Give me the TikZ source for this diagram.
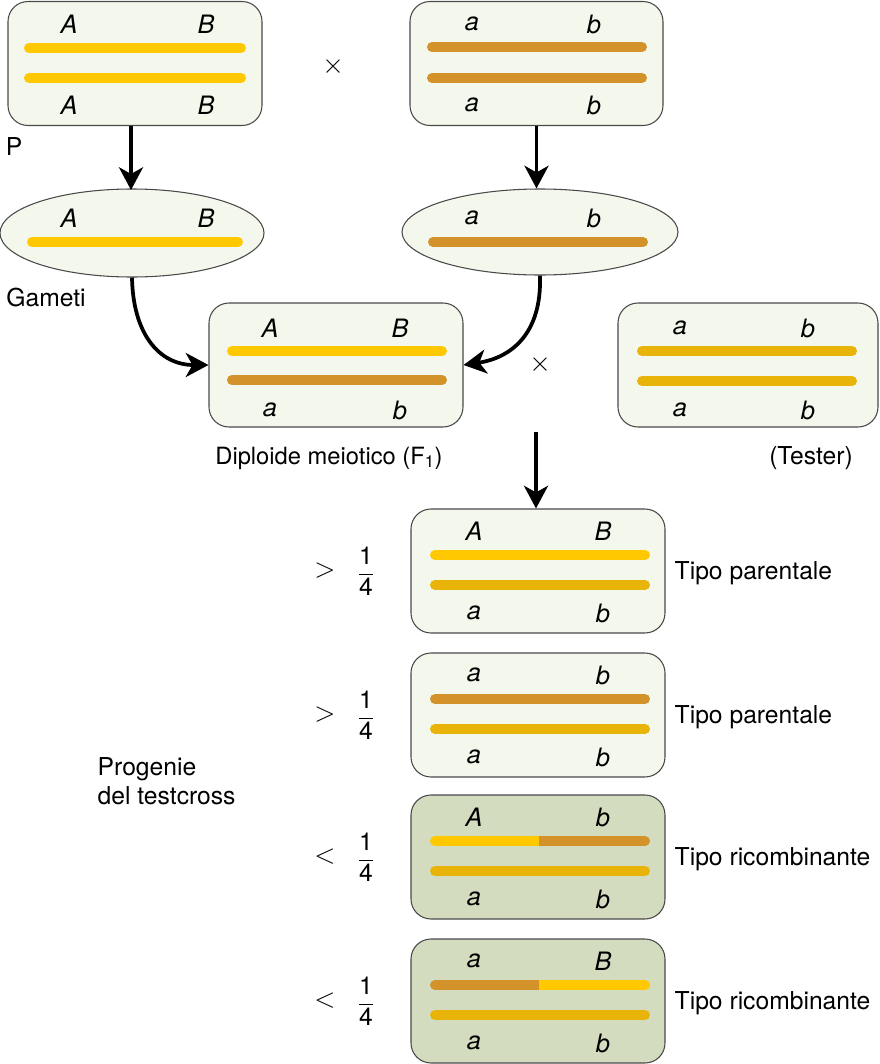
\documentclass[tikz,border=0pt]{standalone}
\usepackage{fontspec}
\setmainfont{TeX Gyre Heros}
\usetikzlibrary{arrows.meta,shapes.geometric}
\definecolor{yel}{HTML}{FFC800}
\definecolor{brn}{HTML}{D4922A}
\definecolor{tst}{HTML}{E8B40A}
\definecolor{boxfill}{HTML}{F4F8EC}
\definecolor{recfill}{HTML}{D3DCBF}
\definecolor{boxline}{HTML}{4A4A4A}
\begin{document}
\begin{tikzpicture}[x=0.75pt,y=-0.75pt,
  cbox/.style={draw=boxline, fill=boxfill, line width=0.8pt, rounded corners=15pt,
    minimum width=190.5pt, minimum height=93pt, inner sep=0pt},
  ebox/.style={ellipse, draw=boxline, fill=boxfill, line width=0.8pt, inner sep=0pt},
  lbl/.style={font=\fontsize{19}{22}\selectfont\itshape},
  txt/.style={font=\fontsize{18.5}{22}\selectfont},
  sym/.style={font=\fontsize{21}{24}\selectfont},
  chr/.style={line width=7.5pt, line cap=round},
  chrb/.style={line width=7.5pt, line cap=butt},
  arr/.style={line width=2.8pt, -{Stealth[length=17pt,width=18pt,inset=5pt]}}
]
\useasboundingbox (0,0) rectangle (879,1064);

% parents
\node[cbox] (b1) at (135,63.5) {};
\draw[chr,yel] (29,48) -- (241,48);
\draw[chr,yel] (29,78) -- (241,78);
\node[lbl] (b1la) at (69,24) {A};
\node[lbl] (b1lb) at (206,24) {B};
\node[lbl] (b1lc) at (69,105) {A};
\node[lbl] (b1ld) at (206,105) {B};

\node[cbox, minimum width=189.75pt] (b2) at (536.5,63.5) {};
\draw[chr,brn] (432,47) -- (642,47);
\draw[chr,brn] (432,78) -- (642,78);
\node[lbl] (b2la) at (472,24) {a};
\node[lbl] (b2lb) at (594,24) {b};
\node[lbl] (b2lc) at (472,105) {a};
\node[lbl] (b2ld) at (594,105) {b};

\node[sym] (x1) at (333,67) {$\times$};
\node[txt] (P) at (14,147) {P};

% gametes
\node[ebox, minimum width=198pt, minimum height=66pt] (e1) at (132,233) {};
\draw[chr,yel] (32,242) -- (238,242);
\node[lbl] (e1la) at (69,218) {A};
\node[lbl] (e1lb) at (206,218) {B};

\node[ebox, minimum width=207pt, minimum height=64.5pt] (e2) at (540,232) {};
\draw[chr,brn] (433,242) -- (643,242);
\node[lbl] (e2la) at (472,218) {a};
\node[lbl] (e2lb) at (594,218) {b};

\node[txt] (gam) at (46,298) {Gameti};

\draw[arr] (b1.south -| 131,0) -- (131,190);
\draw[arr] (b2.south) -- (b2.south |- e2.north);

% F1
\node[cbox] (f1) at (336,365) {};
\draw[chr,yel] (232,351) -- (442,351);
\draw[chr,brn] (232,380) -- (442,380);
\node[lbl] (f1la) at (270,328) {A};
\node[lbl] (f1lb) at (400,328) {B};
\node[lbl] (f1lc) at (270,410) {a};
\node[lbl] (f1ld) at (400,410) {b};
\node[txt, font=\fontsize{17.8}{21}\selectfont] (f1t) at (329,458) {Diploide meiotico (F\textsubscript{1})};

\draw[arr] (e1.south) .. controls (133,335) and (160,365) .. (f1.west);
\draw[arr] (e2.south) .. controls (542,335) and (510,358) .. (f1.east);

\node[sym] (x2) at (540,365) {$\times$};

% tester
\node[cbox, minimum width=195pt] (ts) at (748,365) {};
\draw[chr,tst] (642,351) -- (852,351);
\draw[chr,tst] (642,381) -- (852,381);
\node[lbl] (tsla) at (680,328) {a};
\node[lbl] (tslb) at (808,328) {b};
\node[lbl] (tslc) at (680,410) {a};
\node[lbl] (tsld) at (808,410) {b};
\node[txt] (tst) at (811,458) {(Tester)};

% progeny
\coordinate (c0) at (536,432);
\node[cbox] (p1) at (538,571) {};
\node[cbox] (p2) at (538,715) {};
\node[cbox, fill=recfill] (p3) at (538,857) {};
\node[cbox, fill=recfill] (p4) at (538,1001) {};
\draw[arr] (c0) -- (c0 |- p1.north);

% p1
\draw[chr,yel] (435,555) -- (645,555);
\draw[chr,tst] (435,585) -- (645,585);
\node[lbl] at (474,531) {A};
\node[lbl] at (603,531) {B};
\node[lbl] at (474,613) {a};
\node[lbl] at (603,613) {b};
% p2
\draw[chr,brn] (435,699) -- (645,699);
\draw[chr,tst] (435,729) -- (645,729);
\node[lbl] at (474,675) {a};
\node[lbl] at (603,675) {b};
\node[lbl] at (474,757) {a};
\node[lbl] at (603,757) {b};
% p3
\draw[chr,yel] (435,841) -- (500,841);
\draw[chrb,yel] (480,841) -- (539,841);
\draw[chrb,brn] (539,841) -- (600,841);
\draw[chr,brn] (580,841) -- (645,841);
\draw[chr,tst] (435,871) -- (645,871);
\node[lbl] at (474,817) {A};
\node[lbl] at (603,817) {b};
\node[lbl] at (474,899) {a};
\node[lbl] at (603,899) {b};
% p4
\draw[chr,brn] (435,985) -- (500,985);
\draw[chrb,brn] (480,985) -- (539,985);
\draw[chrb,yel] (539,985) -- (600,985);
\draw[chr,yel] (580,985) -- (645,985);
\draw[chr,tst] (435,1015) -- (645,1015);
\node[lbl] at (474,961) {a};
\node[lbl] at (603,961) {B};
\node[lbl] at (474,1043) {a};
\node[lbl] at (603,1043) {b};

% fractions and labels
\foreach \c/\s/\t [count=\i] in {571/>/parentale, 715/>/parentale, 857/</ricombinante, 1001/</ricombinante}{
  \node[sym] (s\i) at (325,\c) {$\s$};
  \node[txt] (fr\i) at (366,\c) {$\displaystyle\frac{\mbox{1}}{\mbox{4}}$};
  \node[txt, anchor=west] (tp\i) at (670,\c+2) {Tipo \t};
}

\node[txt, anchor=west, align=left] (prog) at (93,781) {Progenie\\del testcross};
\end{tikzpicture}
\end{document}
